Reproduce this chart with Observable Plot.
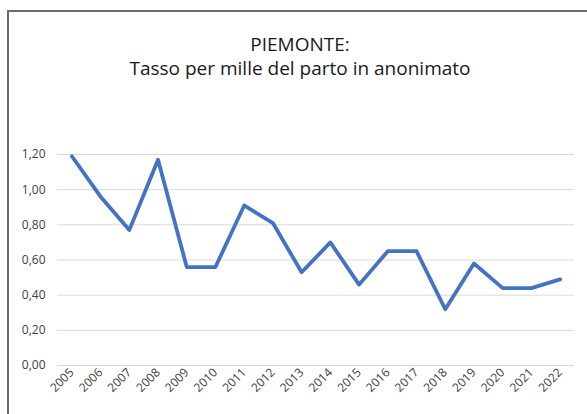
<!DOCTYPE html>
<html>
<head>
<meta charset="utf-8">
<script src="https://cdn.jsdelivr.net/npm/d3@7"></script>
<script src="https://cdn.jsdelivr.net/npm/@observablehq/plot@0.6"></script>
<style>
  html, body { margin: 0; padding: 0; background: #fff; width: 587px; height: 414px; overflow: hidden; }
  #frame { position: absolute; left: 7px; top: 10px; width: 620px; height: 440px;
           border-top: 2px solid #6b6b6b; border-left: 2px solid #6b6b6b; }
  #title { position: absolute; left: 0; top: 0; width: 600px; text-align: center;
           font-family: "Open Sans", sans-serif; font-size: 19px; line-height: 24px;
           color: #1a1a1a; padding-top: 32px; }
  #chart { position: absolute; left: 0; top: 130px; }
</style>
</head>
<body>
<div id="frame"></div>
<div id="title">PIEMONTE:<br>Tasso per mille del parto in anonimato</div>
<div id="chart"></div>
<script>
const years = ["2005","2006","2007","2008","2009","2010","2011","2012","2013","2014","2015","2016","2017","2018","2019","2020","2021","2022"];
const rates = [1.19, 0.96, 0.77, 1.17, 0.56, 0.56, 0.91, 0.81, 0.53, 0.70, 0.46, 0.65, 0.65, 0.32, 0.58, 0.44, 0.44, 0.49];
const yTicks = [0, 0.2, 0.4, 0.6, 0.8, 1.0, 1.2];

const data = years.map((y, i) => ({year: y, rate: rates[i]}));
const it = d3.formatLocale({decimal: ",", thousands: ".", grouping: [3], currency: ["€", ""]});
const fmt = it.format(".2f");

const plot = Plot.plot({
  width: 587,
  height: 284,
  marginLeft: 57,
  marginRight: 13,
  marginTop: 24,
  marginBottom: 49,
  style: { fontFamily: "Open Sans, sans-serif", fontSize: "12px", color: "#404040", background: "transparent" },
  x: { type: "point", domain: years, padding: 0.5, round: false, label: null, tickSize: 0, tickRotate: -45, tickPadding: 5 },
  y: { domain: [0, 1.2], ticks: yTicks, tickFormat: fmt, label: null, tickSize: 0, tickPadding: 12 },
  marks: [
    Plot.gridY(yTicks, { stroke: "#d9d9d9", strokeOpacity: 1, strokeWidth: 1 }),
    Plot.line(data, { x: "year", y: "rate", stroke: "#4472C4", strokeWidth: 3.8, strokeLinejoin: "round", strokeLinecap: "round" })
  ]
});
document.getElementById("chart").appendChild(plot);
</script>
</body>
</html>
